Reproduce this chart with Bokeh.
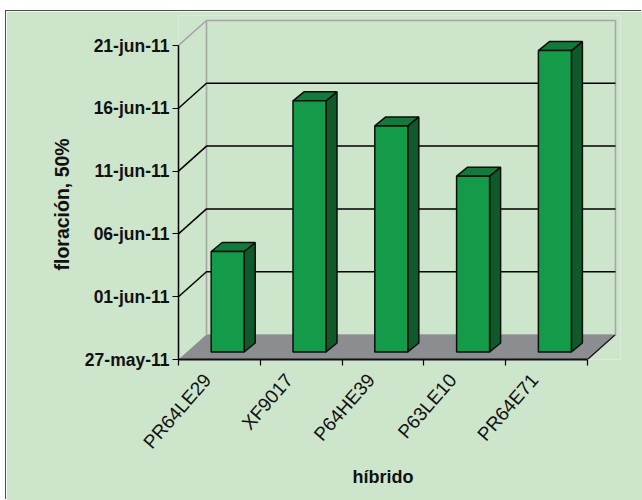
from math import radians
from datetime import date

from bokeh.embed import file_html
from bokeh.models import FixedTicker, Range1d, Title
from bokeh.plotting import figure
from bokeh.resources import INLINE

hybrids = ["PR64LE29", "XF9017", "P64HE39", "P63LE10", "PR64E71"]
flowering = [date(2011, 6, 4), date(2011, 6, 16), date(2011, 6, 14), date(2011, 6, 10), date(2011, 6, 20)]
tick_dates = [date(2011, 5, 27), date(2011, 6, 1), date(2011, 6, 6), date(2011, 6, 11), date(2011, 6, 16), date(2011, 6, 21)]
tick_labels = ["27-may-11", "01-jun-11", "06-jun-11", "11-jun-11", "16-jun-11", "21-jun-11"]

PANEL = "#cde5cb"
FRONT = "#149b4a"
TOP = "#147a3c"
SIDE = "#10592b"
FLOOR = "#8b8d90"
WALL = "#a6a6a9"
FONT = "Liberation Sans"

# Pixel scale of the axes and the oblique depth of the box, in data units
PX_X = 81.8
PX_Y = 12.56
DEPTH_X = 28 / PX_X
DEPTH_Y = 25 / PX_Y
BAR_W = 33 / PX_X
BAR_SHIFT = 8.3 / PX_X
BAR_LIFT = 7.5 / PX_Y
BAR_DX = 11 / PX_X
BAR_DY = 9 / PX_Y
LABEL_SHIFT = -12 / PX_X

origin = tick_dates[0]
days = [(d - origin).days for d in flowering]
tick_days = [(d - origin).days for d in tick_dates]
n = len(hybrids)
y_top = tick_days[-1]

p = figure(
    width=636, height=489, output_backend="svg", toolbar_location=None,
    x_range=Range1d(0, 442 / PX_X), y_range=Range1d(0, 344 / PX_Y),
    min_border_left=172, min_border_right=22, min_border_top=4, min_border_bottom=141,
)
p.margin = (11, 0, 0, 6)
p.styles = {"box-shadow": "-1px -1px 0 #4a4f4a"}
p.background_fill_color = PANEL
p.border_fill_color = PANEL
p.outline_line_color = None
p.grid.visible = False

# Floor of the box
p.patch([0, n, n + DEPTH_X, DEPTH_X], [0, 0, DEPTH_Y, DEPTH_Y], fill_color=FLOOR, line_color=None)
p.line([n, n + DEPTH_X], [0, DEPTH_Y], line_color="#111111", line_width=1.2)

# Back wall, side wall and gridlines
p.line([0, DEPTH_X, n + DEPTH_X, n + DEPTH_X],
       [y_top, y_top + DEPTH_Y, y_top + DEPTH_Y, DEPTH_Y], line_color=WALL, line_width=1.6)
p.line([DEPTH_X, DEPTH_X], [DEPTH_Y, y_top + DEPTH_Y], line_color=WALL, line_width=1.6)
p.line([DEPTH_X, n + DEPTH_X], [DEPTH_Y, DEPTH_Y], line_color=WALL, line_width=1.2)
for t in tick_days[1:-1]:
    p.line([0, DEPTH_X, n + DEPTH_X], [t, t + DEPTH_Y, t + DEPTH_Y], line_color="black", line_width=1.5)

# Bars: front face, top face and right-hand face
front_x, front_y, top_x, top_y, side_x, side_y = [], [], [], [], [], []
for i, v in enumerate(days):
    x0 = i + 0.5 + BAR_SHIFT - BAR_W / 2
    x1 = x0 + BAR_W
    y0, y1 = BAR_LIFT, BAR_LIFT + v
    front_x.append([x0, x1, x1, x0])
    front_y.append([y0, y0, y1, y1])
    top_x.append([x0, x1, x1 + BAR_DX, x0 + BAR_DX])
    top_y.append([y1, y1, y1 + BAR_DY, y1 + BAR_DY])
    side_x.append([x1, x1 + BAR_DX, x1 + BAR_DX, x1])
    side_y.append([y0, y0 + BAR_DY, y1 + BAR_DY, y1])
p.patches(side_x, side_y, fill_color=SIDE, line_color="#0a0f0a", line_width=1.5)
p.patches(top_x, top_y, fill_color=TOP, line_color="#0a0f0a", line_width=1.5)
p.patches(front_x, front_y, fill_color=FRONT, line_color="#0a0f0a", line_width=1.5)

# Date axis
ya = p.yaxis[0]
ya.bounds = (0, y_top)
ya.ticker = FixedTicker(ticks=tick_days)
ya.major_label_overrides = dict(zip(tick_days, tick_labels))
ya.major_label_text_font = FONT
ya.major_label_text_font_size = "17.5px"
ya.major_label_text_font_style = "bold"
ya.major_label_text_color = "#111111"
ya.major_tick_in = 0
ya.major_tick_out = 6
ya.major_tick_line_color = "black"
ya.major_tick_line_width = 1.2
ya.minor_tick_line_color = None
ya.axis_line_color = "black"
ya.axis_line_width = 1.5
ya.major_label_standoff = 3

# Category axis: labels sit near mid-slot, tick marks on the slot edges
xa = p.xaxis[0]
label_pos = [i + 0.5 + LABEL_SHIFT for i in range(n)]
xa.bounds = (0, n)
xa.ticker = FixedTicker(ticks=label_pos, minor_ticks=list(range(n + 1)))
xa.major_label_overrides = dict(zip(label_pos, hybrids))
xa.major_label_orientation = radians(49)
xa.major_label_text_font = FONT
xa.major_label_text_font_size = "19px"
xa.major_label_text_color = "#111111"
xa.major_label_standoff = 11
xa.major_tick_line_color = None
xa.minor_tick_in = 0
xa.minor_tick_out = 6
xa.minor_tick_line_color = "black"
xa.minor_tick_line_width = 1.2
xa.axis_line_color = "#111111"
xa.axis_line_width = 2.2

# Axis titles, placed along each axis from the frame's corner
p.add_layout(Title(
    text="híbrido", align="left", offset=174, standoff=5,
    text_font=FONT, text_font_size="18px", text_font_style="bold", text_color="#111111",
), "below")
p.add_layout(Title(
    text="floración, 50%", align="left", offset=89, standoff=17,
    text_font=FONT, text_font_size="19.5px", text_font_style="bold", text_color="#111111",
), "left")

open("out.html", "w").write(file_html(p, INLINE))
